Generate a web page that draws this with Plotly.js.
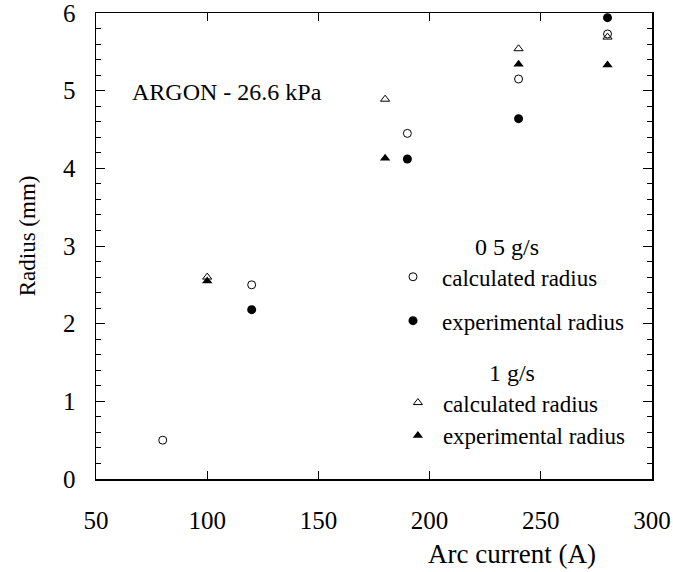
<!DOCTYPE html>
<html>
<head>
<meta charset="utf-8">
<script src="https://cdn.plot.ly/plotly-3.0.1.min.js"></script>
<style>
html,body{margin:0;padding:0;background:#fff}
#chart{width:673px;height:572px}
svg text{font-family:'Liberation Serif','Times New Roman',serif !important;}
</style>
</head>
<body>
<div id="chart"></div>
<script>
// Data
const calc05X = [80, 120, 190, 240, 280];
const calc05Y = [0.5, 2.5, 4.45, 5.15, 5.73];
const exp05X = [120, 190, 240, 280];
const exp05Y = [2.18, 4.12, 4.64, 5.94];
const calc1X = [100, 180, 240, 280];
const calc1Y = [2.6, 4.89, 5.54, 5.69];
const exp1X = [100, 180, 240, 280];
const exp1Y = [2.55, 4.13, 5.34, 5.33];
const xTicks = [50, 100, 150, 200, 250, 300];
const yTicks = [0, 1, 2, 3, 4, 5, 6];

const FONT = 'Liberation Serif';

const traces = [
  {x: calc05X, y: calc05Y, mode: 'markers', type: 'scatter', name: 'calculated radius',
   legend: 'legend', legendgroup: 'a1',
   marker: {symbol: 'circle-open', size: 8, color: '#000', line: {width: 1, color: '#000'}}},
  {x: exp05X, y: exp05Y, mode: 'markers', type: 'scatter', name: 'experimental radius',
   legend: 'legend', legendgroup: 'a2',
   marker: {symbol: 'circle', size: 9, color: '#000'}},
  {x: calc1X, y: calc1Y, mode: 'markers', type: 'scatter', name: 'calculated radius',
   legend: 'legend2', legendgroup: 'b1',
   marker: {symbol: 'triangle-up-open', size: 8, color: '#000', line: {width: 1, color: '#000'}}},
  {x: exp1X, y: exp1Y, mode: 'markers', type: 'scatter', name: 'experimental radius',
   legend: 'legend2', legendgroup: 'b2',
   marker: {symbol: 'triangle-up', size: 9, color: '#000'}}
];

const layout = {
  width: 673, height: 572,
  margin: {l: 96, r: 21, t: 13, b: 93},
  paper_bgcolor: '#fff', plot_bgcolor: '#fff',
  font: {family: FONT, color: '#000', size: 23},
  showlegend: true,
  legend: {
    x: 0.518, y: 0.547, xanchor: 'left', yanchor: 'top',
    bgcolor: 'rgba(0,0,0,0)', borderwidth: 0, itemwidth: 48,
    title: {text: '0 5 g/s', side: 'top center', font: {size: 24, family: FONT}},
    font: {size: 23, family: FONT}, tracegroupgap: 11, traceorder: 'grouped'
  },
  legend2: {
    x: 0.534, y: 0.277, xanchor: 'left', yanchor: 'top',
    bgcolor: 'rgba(0,0,0,0)', borderwidth: 0, itemwidth: 40,
    title: {text: '1 g/s', side: 'top center', font: {size: 24, family: FONT}},
    font: {size: 23, family: FONT}, tracegroupgap: 0, traceorder: 'grouped'
  },
  xaxis: {
    range: [50, 300], tickvals: xTicks, ticktext: xTicks.map(String),
    ticks: 'inside', ticklen: 8, tickwidth: 1, tickcolor: '#000',
    showline: true, linecolor: '#000', linewidth: 1.5, mirror: 'ticks',
    showgrid: false, zeroline: false, ticklabeloverflow: 'allow',
    tickfont: {size: 25, family: FONT}, ticklabelstandoff: 18
  },
  yaxis: {
    range: [0, 6], tickvals: yTicks, ticktext: yTicks.map(String),
    ticks: 'inside', ticklen: 9, tickwidth: 1, tickcolor: '#000',
    minor: {dtick: 0.2, ticks: 'inside', ticklen: 5, tickcolor: '#000', showgrid: false},
    showline: true, linecolor: '#000', linewidth: 1.5, mirror: 'ticks',
    showgrid: false, zeroline: false, ticklabeloverflow: 'allow',
    tickfont: {size: 25, family: FONT}, ticklabelstandoff: 14
  },
  annotations: [
    {text: 'ARGON - 26.6 kPa', xref: 'paper', yref: 'paper', x: 0.061, y: 0.831,
     xanchor: 'left', yanchor: 'middle', showarrow: false, font: {size: 24, family: FONT}},
    {text: 'Arc current (A)', xref: 'paper', yref: 'paper', x: 0.748, y: -0.161,
     xanchor: 'center', yanchor: 'middle', showarrow: false, font: {size: 27, family: FONT}},
    {text: 'Radius (mm)', xref: 'paper', yref: 'paper', x: -0.124, y: 0.521, textangle: -90,
     xanchor: 'center', yanchor: 'middle', showarrow: false, font: {size: 23, family: FONT}}
  ]
};

Plotly.newPlot('chart', traces, layout, {displayModeBar: false, staticPlot: true});
</script>
</body>
</html>
